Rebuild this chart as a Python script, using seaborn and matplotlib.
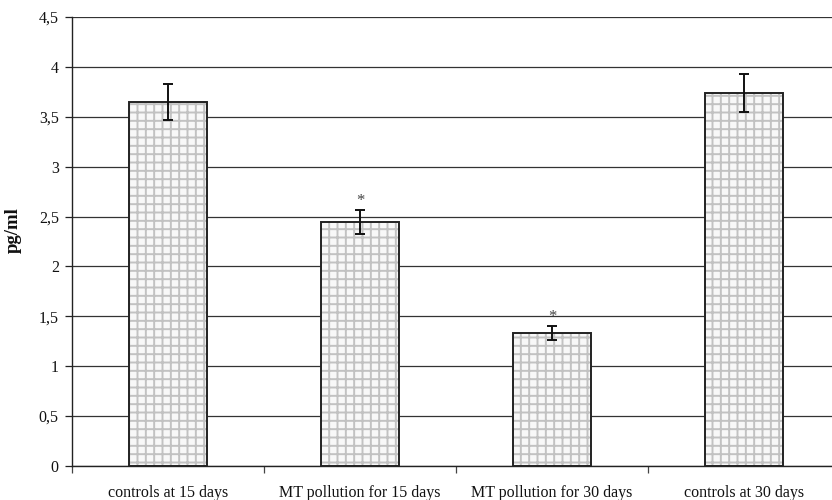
import matplotlib
matplotlib.use("Agg")
import matplotlib.pyplot as plt
import seaborn as sns
import numpy as np
import pandas as pd
from matplotlib.colors import to_rgba
from matplotlib.ticker import FixedLocator, FuncFormatter

categories = ["controls at 15 days", "MT pollution for 15 days",
              "MT pollution for 30 days", "controls at 30 days"]
values = [3.65, 2.45, 1.33, 3.74]
errors = [0.18, 0.12, 0.07, 0.19]
significant = [False, True, True, False]
y_ticks = [0, 0.5, 1, 1.5, 2, 2.5, 3, 3.5, 4, 4.5]

sns.set_theme(style="white")
plt.rcParams["font.family"] = ["Liberation Serif", "DejaVu Serif"]
plt.rcParams["hatch.linewidth"] = 1.4

df = pd.DataFrame({"group": categories, "value": values})

fig = plt.figure(figsize=(8.32, 5.0), dpi=100)
ax = fig.add_axes([72 / 832, 34 / 500, 768 / 832, 449 / 500])

sns.barplot(data=df, x="group", y="value", order=categories, width=0.405,
            color="#f4f4f4", edgecolor="#222222", linewidth=1.4,
            errorbar=None, ax=ax, zorder=3)

# light grey cross-hatch inside dark bar outlines
hatch_rgba = to_rgba("#c2c2c2")
for patch in ax.patches:
    patch.set_facecolor("#f8f8f8")
    patch.set_hatch("++")
    patch._hatch_color = hatch_rgba

centers = [p.get_x() + p.get_width() / 2 for p in ax.patches]
ax.errorbar(centers, values, yerr=errors, fmt="none", ecolor="#111111",
            elinewidth=1.4, capsize=3.5, capthick=1.4, zorder=4)

for cx, v, e, s in zip(centers, values, errors, significant):
    if s:
        ax.text(cx, v + e + 0.01, "*", ha="center", va="bottom",
                fontsize=12, color="#444444", zorder=5)

ax.set_xlim(-0.5, 3.5)
ax.set_ylim(0, 4.5)
ax.yaxis.set_major_locator(FixedLocator(y_ticks))
ax.yaxis.set_major_formatter(FuncFormatter(lambda v, p: f"{v:g}".replace(".", ",")))
ax.grid(axis="y", color="#333333", linewidth=0.9, zorder=0)
ax.set_axisbelow(True)

for side in ["top", "right"]:
    ax.spines[side].set_visible(False)
for side in ["left", "bottom"]:
    ax.spines[side].set_color("#222222")
    ax.spines[side].set_linewidth(1.0)

ax.set_xticks(range(len(categories)))
ax.set_xticklabels(categories, fontsize=11.5, color="#111111")
ax.set_xticks([-0.5, 0.5, 1.5, 2.5, 3.5], minor=True)
ax.tick_params(axis="x", which="major", length=0, pad=14)
ax.tick_params(axis="x", which="minor", length=5, width=0.9, color="#444444",
               direction="out", bottom=True)
ax.tick_params(axis="y", which="major", length=5, width=0.9, color="#222222",
               direction="out", left=True, labelsize=11.5, labelcolor="#111111", pad=4.5)

ax.set_xlabel("")
ax.set_ylabel("pg/ml", fontsize=13.5, fontweight="bold", color="#111111")
ax.yaxis.set_label_coords(-0.065, 0.526)

fig.savefig("out.png", dpi=100)
